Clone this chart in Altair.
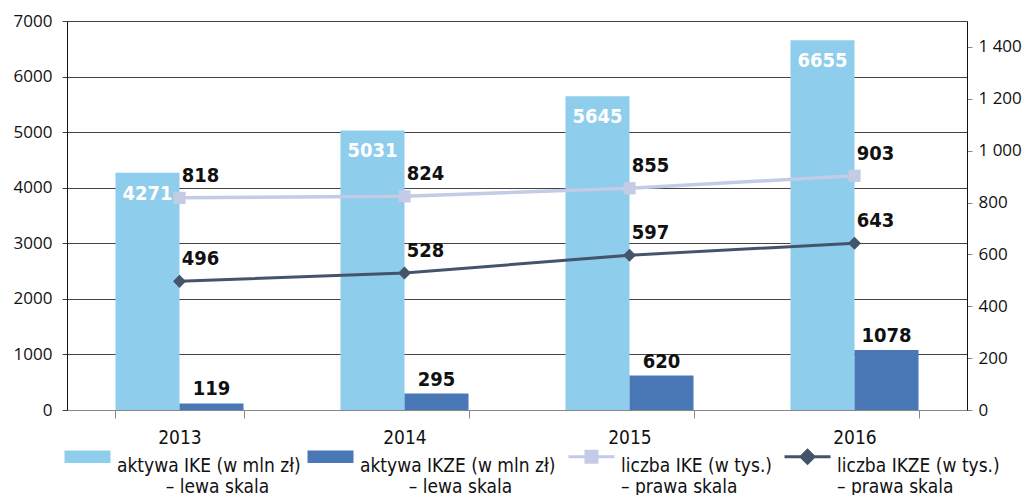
import altair as alt
import pandas as pd

years = ["2013", "2014", "2015", "2016"]
ike_assets = [4271, 5031, 5645, 6655]
ikze_assets = [119, 295, 620, 1078]
ike_count = [818, 824, 855, 903]
ikze_count = [496, 528, 597, 643]

NB = "\u00a0"
WJ = "\u2060"
S_IKE = "aktywa IKE (w mln zł)|" + WJ + NB * 9 + "– lewa skala"
S_IKZE = "aktywa IKZE (w mln zł)|" + WJ + NB * 9 + "– lewa skala"
S_LIKE = "liczba IKE (w tys.)|– prawa skala"
S_LIKZE = "liczba IKZE (w tys.)|– prawa skala"
series = [S_IKE, S_IKZE, S_LIKE, S_LIKZE]
colors = ["#8ECDEB", "#4A78B6", "#C3CBE6", "#44546A"]

bars_df = pd.DataFrame({
    "year": years * 2,
    "series": [S_IKE] * 4 + [S_IKZE] * 4,
    "value": ike_assets + ikze_assets,
})
lines_df = pd.DataFrame({
    "year": years * 2,
    "series": [S_LIKE] * 4 + [S_LIKZE] * 4,
    "value": ike_count + ikze_count,
})

FC = "'DejaVu Sans Condensed', 'Roboto Condensed', 'Liberation Sans Narrow', Roboto, sans-serif"
FR = "'Open Sans', sans-serif"

x_enc = alt.X("year:N", scale=alt.Scale(paddingInner=0.431, paddingOuter=0.2155),
              axis=alt.Axis(title=None, labelFont=FC, labelFontSize=19, labelColor="#111",
                            domainColor="#888", tickColor="#888", tickSize=8, tickBand="extent",
                            labelPadding=10, labelAngle=0))

left_axis = alt.Axis(title=None, values=list(range(0, 7001, 1000)), grid=True, gridColor="#444",
                     gridWidth=1, domainColor="#111", tickColor="#444", tickSize=5, format="d",
                     labelFont=FR, labelFontSize=17, labelColor="#111", labelPadding=10)
y_left = alt.Y("value:Q", scale=alt.Scale(domain=[0, 7000], nice=False), axis=left_axis)

right_axis = alt.Axis(title=None, orient="right", values=list(range(0, 1401, 200)), grid=False,
                      domainColor="#111", tickColor="#888", tickSize=5,
                      labelFont=FR, labelFontSize=17, labelColor="#111", labelPadding=6,
                      labelExpr="replace(format(datum.value, ','), ',', ' ')")
y_right = alt.Y("value:Q", scale=alt.Scale(domain=[0, 1500], nice=False), axis=right_axis)

is_bar = "indexof(['" + S_IKE + "','" + S_IKZE + "'], datum.value) >= 0"
shape_sig = (
    is_bar + " ? 'M-1,-0.27L1,-0.27L1,0.27L-1,0.27Z' : (datum.value == '" + S_LIKE + "' ? "
    "'M-1,0L-0.24,0M0.24,0L1,0M-0.24,-0.24L0.24,-0.24L0.24,0.24L-0.24,0.24Z' : "
    "'M-1,0L-0.25,0M0.25,0L1,0M0,-0.28L0.28,0L0,0.28L-0.28,0Z')"
)
legend = alt.Legend(
    title=None, orient="none", legendX=11, legendY=426, direction="horizontal",
    labelFont=FC, labelFontSize=19, labelColor="#111", labelExpr="split(datum.label, '|')",
    symbolSize=2116, columnPadding=6, labelOffset=20, labelLimit=400,
    labelBaseline="top",
    symbolType=alt.ExprRef(expr=shape_sig),
    symbolFillColor=alt.ExprRef(expr="scale('color', datum.value)"),
    symbolStrokeColor=alt.ExprRef(expr="scale('color', datum.value)"),
    symbolStrokeWidth=alt.ExprRef(expr=is_bar + " ? 0 : 3"),
    symbolOpacity=1,
)
color_enc = alt.Color("series:N", scale=alt.Scale(domain=series, range=colors), legend=legend)

base_b = alt.Chart(bars_df)
xoff = alt.XOffset("series:N", scale=alt.Scale(domain=[S_IKE, S_IKZE], paddingInner=0, paddingOuter=0))

bars = base_b.mark_bar().encode(x=x_enc, xOffset=xoff, y=y_left, color=color_enc)
txt_ike = base_b.transform_filter(alt.datum.series == S_IKE).mark_text(
    font=FC, fontWeight="bold", fontSize=20, color="white", dy=21, baseline="middle"
).encode(x=x_enc, xOffset=xoff, y=y_left, text="value:Q")
txt_ikze = base_b.transform_filter(alt.datum.series == S_IKZE).mark_text(
    font=FC, fontWeight="bold", fontSize=20, color="#111", dy=-14, baseline="middle"
).encode(x=x_enc, xOffset=xoff, y=y_left, text="value:Q")
left = alt.layer(bars, txt_ike, txt_ikze)

base_l = alt.Chart(lines_df)
line_ike = base_l.transform_filter(alt.datum.series == S_LIKE).mark_line(
    strokeWidth=3.5, point=alt.OverlayMarkDef(shape="square", size=150, filled=True, color=colors[2])
).encode(x=x_enc, y=y_right, color=color_enc)
line_ikze = base_l.transform_filter(alt.datum.series == S_LIKZE).mark_line(
    strokeWidth=3, point=alt.OverlayMarkDef(shape="diamond", size=170, filled=True, color=colors[3])
).encode(x=x_enc, y=y_right, color=color_enc)
txt_lines = base_l.mark_text(
    font=FC, fontWeight="bold", fontSize=20, color="#111", dx=21, dy=-22, baseline="middle"
).encode(x=x_enc, y=y_right, text="value:Q")
right = alt.layer(line_ike, line_ikze, txt_lines)

chart = alt.layer(left, right).resolve_scale(y="independent").properties(
    width=900, height=389, padding={"left": 5, "top": 4, "right": 0, "bottom": 0}
).configure_view(stroke=None).configure(background="white")

chart.save("out.html", embed_options={"renderer": "svg", "actions": False})
